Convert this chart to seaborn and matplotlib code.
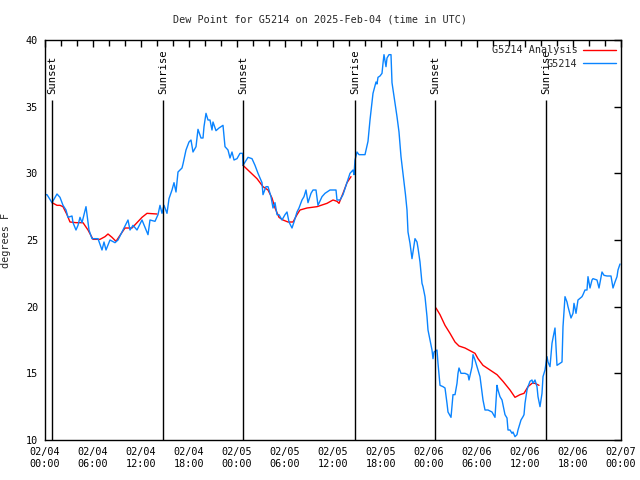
import numpy as np
import pandas as pd
import matplotlib
matplotlib.use("Agg")
import matplotlib.pyplot as plt
import matplotlib.dates as mdates
import seaborn as sns

# ---- data (hours since 2025-02-04 00:00 UTC, dew point in F) ----
obs_hours = [0, 0.25, 0.875, 1.5, 1.875, 2.25, 2.625, 2.875, 3.375, 3.5, 3.875, 4.125, 4.375, 4.625,
             5.125, 5.5, 5.875, 6.625, 7.125, 7.375, 7.625, 8.125, 8.75, 9.125, 9.75, 10.375, 10.625,
             11.0, 11.5, 12.125, 12.875, 13.125, 13.75, 14.125, 14.375, 14.625, 14.875, 15.25, 15.5,
             15.875, 16.125, 16.375, 16.625, 17.125, 17.25, 17.625, 18.0, 18.25, 18.5, 18.875, 19.125,
             19.5, 19.75, 19.875, 20.125, 20.375, 20.625, 20.875, 21.0, 21.375, 21.75, 22.25, 22.5,
             22.875, 23.125, 23.375, 23.625, 24.0, 24.375, 24.7, 24.75, 25.375, 25.875, 26.25, 26.625,
             27.125, 27.25, 27.625, 27.875, 28.25, 28.5, 28.75, 29.0, 29.25, 29.625, 30.0, 30.25, 30.5,
             30.875, 31.125, 31.5, 31.75, 32.125, 32.375, 32.625, 32.875, 33.25, 33.5, 33.875, 34.125,
             34.625, 35.0, 35.25, 35.625, 36.375, 36.5, 36.875, 37.25, 37.75, 38.125, 38.5, 38.625,
             38.75, 39.0, 39.25, 40.0, 40.375, 40.625, 40.875, 41.0, 41.375, 41.5, 41.625, 41.875,
             42.125, 42.25, 42.375, 42.625, 42.75, 43.0, 43.25, 43.375, 43.75, 44.0, 44.25, 44.5,
             44.75, 45.06, 45.25, 45.375, 45.625, 45.875, 46.0, 46.25, 46.5, 46.625, 46.875, 47.125,
             47.25, 47.5, 47.75, 47.875, 48.125, 48.375, 48.5, 48.625, 49.0, 49.125, 49.375, 49.75,
             50.0, 50.25, 50.375, 50.75, 51.0, 51.25, 51.5, 51.625, 51.75, 52.0, 52.5, 52.875, 53.0,
             53.375, 53.5, 53.75, 54.0, 54.375, 54.75, 55.0, 55.375, 55.875, 56.25, 56.5, 56.625,
             56.875, 57.125, 57.5, 57.75, 57.875, 58.125, 58.375, 58.5, 58.75, 59.0, 59.125, 59.5,
             59.75, 59.875, 60.0, 60.25, 60.375, 60.625, 60.875, 61.0, 61.25, 61.5, 61.625, 61.875,
             62.125, 62.25, 62.5, 62.75, 62.875, 63.125, 63.375, 63.5, 63.75, 64.0, 64.25, 64.625,
             64.75, 65.0, 65.25, 65.375, 65.75, 66.0, 66.125, 66.375, 66.625, 67.125, 67.25, 67.5,
             67.75, 67.875, 68.125, 68.375, 68.5, 69.0, 69.25, 69.625, 69.875, 70.25, 70.75, 71.0,
             71.25, 71.5, 71.625, 71.875]
obs_dew = [28.4, 28.4, 27.8, 28.45, 28.2, 27.6, 27.25, 26.7, 26.8, 26.3, 25.75, 26.1, 26.7, 26.3,
           27.5, 25.75, 25.1, 25.1, 24.25, 24.85, 24.25, 25.0, 24.8, 25.0, 25.75, 26.5, 25.75,
           26.1, 25.75, 26.5, 25.4, 26.5, 26.4, 26.9, 27.6, 27.0, 27.6, 27.0, 28.1,
           28.75, 29.3, 28.6, 30.1, 30.4, 30.7, 31.75, 32.35, 32.5, 31.6, 32.0, 33.3,
           32.65, 32.65, 33.5, 34.5, 34.0, 34.0, 33.25, 33.85, 33.2, 33.4, 33.6, 32.0,
           31.75, 31.15, 31.6, 31.0, 31.1, 31.5, 31.5, 30.6, 31.2, 31.1, 30.6, 30.0,
           29.3, 28.4, 29.0, 29.0, 28.25, 27.4, 27.8, 26.9, 26.9, 26.5, 26.9, 27.1, 26.35,
           25.9, 26.35, 27.1, 27.4, 28.0, 28.25, 28.75, 27.8, 28.5, 28.75, 28.75, 27.6,
           28.25, 28.5, 28.6, 28.75, 28.75, 28.0, 28.0, 28.4, 29.3, 30.0, 30.25, 29.9,
           31.0, 31.6, 31.4, 31.4, 32.4, 34.0, 35.35, 36.0, 36.85, 36.7, 37.2, 37.3,
           37.5, 38.25, 38.9, 38.0, 38.65, 38.9, 38.9, 36.8, 35.25, 34.25, 33.1, 31.25,
           30.0, 28.4, 27.25, 25.6, 24.75, 23.6, 24.1, 25.1, 24.85, 24.4, 23.35, 21.75,
           21.5, 20.75, 19.25, 18.25, 17.5, 16.75, 16.1, 16.6, 16.75, 15.75, 14.1, 14.0,
           13.9, 12.75, 12.1, 11.7, 13.4, 13.4, 14.25, 15.0, 15.4, 15.0, 15.0, 14.9, 14.5,
           15.5, 16.4, 16.0, 15.5, 14.75, 13.0, 12.25, 12.25, 12.1, 11.7, 14.1, 13.75,
           13.25, 13.0, 11.9, 11.65, 10.75, 10.75, 10.5, 10.6, 10.25, 10.4, 10.75, 11.5,
           11.75, 11.9, 12.75, 13.75, 14.0, 14.4, 14.5, 14.25, 14.5, 14.0, 13.25, 12.5,
           13.5, 14.75, 15.25, 16.25, 15.85, 15.5, 17.25, 17.65, 18.4, 15.6, 15.7, 15.85,
           18.5, 20.75, 20.35, 20.0, 19.15, 19.5, 20.25, 19.5, 20.5, 20.75, 20.9, 21.25,
           21.25, 22.25, 21.4, 22.0, 22.1, 22.0, 21.4, 22.6, 22.35, 22.3, 22.3, 21.4,
           21.85, 22.25, 22.75, 23.2]

ana_hours_1 = [0.875, 1.5, 1.875, 2.25, 2.75, 3.125, 3.875, 4.75, 5.375, 6.0, 6.875, 7.5, 7.875,
               8.375, 8.875, 9.375, 10.0, 10.875, 11.5, 12.125, 12.75, 14.0]
ana_dew_1 = [27.8, 27.6, 27.6, 27.5, 26.9, 26.35, 26.3, 26.3, 25.75, 25.05, 25.05, 25.25, 25.45,
             25.2, 24.9, 25.35, 25.9, 25.9, 26.3, 26.7, 27.0, 26.95]
ana_hours_2 = [24.75, 25.625, 26.5, 27.25, 27.875, 28.375, 28.75, 29.25, 29.75, 30.375, 31.0, 31.5,
               31.875, 32.75, 34.0, 35.25, 36.0, 36.5, 36.75, 37.25, 37.75, 38.25]
ana_dew_2 = [30.6, 30.1, 29.6, 29.0, 28.75, 28.15, 27.4, 26.7, 26.5, 26.35, 26.35, 26.9,
             27.25, 27.4, 27.5, 27.75, 28.0, 27.9, 27.75, 28.5, 29.3, 29.75]
ana_hours_3 = [48.875, 49.375, 50.0, 50.625, 51.25, 51.75, 52.5, 53.125, 53.75, 54.125, 54.75,
               55.625, 56.5, 57.25, 58.125, 58.75, 59.375, 59.875, 60.375, 60.875, 61.25, 61.75]
ana_dew_3 = [19.9, 19.4, 18.6, 18.0, 17.35, 17.05, 16.9, 16.7, 16.5, 16.1, 15.6,
             15.25, 14.9, 14.4, 13.75, 13.2, 13.4, 13.5, 14.0, 14.25, 14.25, 14.1]

sun_hours = [0.875, 14.75, 24.75, 38.75, 48.75, 62.6]
sun_labels = ["Sunset", "Sunrise", "Sunset", "Sunrise", "Sunset", "Sunrise"]

title = "Dew Point for G5214 on 2025-Feb-04 (time in UTC)"
ylabel = "degrees F"
obs_name = "G5214"
ana_name = "G5214 Analysis"

# ---- build frames ----
t0 = pd.Timestamp("2025-02-04 00:00")
def to_time(h):
    return t0 + pd.to_timedelta(np.asarray(h, dtype=float), unit="h")

obs_df = pd.DataFrame({"time": to_time(obs_hours), "dew": obs_dew})
ana_segments = [(ana_hours_1, ana_dew_1), (ana_hours_2, ana_dew_2), (ana_hours_3, ana_dew_3)]

# ---- style ----
sns.set_theme(style="white")
plt.rcParams["font.family"] = ["DejaVu Sans Mono", "DejaVu Sans"]
plt.rcParams["font.size"] = 7.3

fig = plt.figure(figsize=(6.4, 4.8), dpi=100)
ax = fig.add_axes([45 / 640, 40 / 480, 576 / 640, 400 / 480])

red = "#ff0000"
blue = "#0a84ff"

for i, (h, d) in enumerate(ana_segments):
    seg = pd.DataFrame({"time": to_time(h), "dew": d})
    sns.lineplot(data=seg, x="time", y="dew", ax=ax, color=red, linewidth=1.0,
                 label=ana_name if i == 0 else "_nolegend_", legend=False)

sns.lineplot(data=obs_df, x="time", y="dew", ax=ax, color=blue, linewidth=1.0,
             label=obs_name, legend=False)

# sunrise / sunset markers
sun_times = to_time(sun_hours)
ax.vlines(sun_times, 10, 35.5, color="black", linewidth=1.0)
for t, lab in zip(sun_times, sun_labels):
    ax.text(t, 35.95, lab, rotation=90, ha="center", va="bottom", fontsize=7.6, color="black")

ax.set_xlim(t0, t0 + pd.Timedelta(hours=72))
ax.set_ylim(10, 40)
ax.set_yticks([10, 15, 20, 25, 30, 35, 40])
ax.xaxis.set_major_locator(mdates.HourLocator(byhour=[0, 6, 12, 18]))
ax.xaxis.set_minor_locator(mdates.HourLocator(interval=2))
ax.xaxis.set_major_formatter(mdates.DateFormatter("%m/%d\n%H:%M"))

for s in ax.spines.values():
    s.set_visible(True)
    s.set_color("black")
    s.set_linewidth(1.0)

ax.tick_params(axis="both", which="both", direction="in", top=True, right=True,
               colors="black", labelsize=7.3)
ax.tick_params(axis="both", which="major", length=5, width=1)
ax.tick_params(axis="x", which="minor", length=4, width=1)
ax.tick_params(axis="x", which="major", pad=5)
ax.tick_params(axis="y", which="major", pad=5)

ax.set_xlabel("")
ax.set_ylabel(ylabel, fontsize=7.3)
ax.yaxis.set_label_coords(-0.059, 0.5)
fig.text(0.5, 1 - 19 / 480, title, ha="center", va="center", fontsize=7.3)

leg = ax.legend(loc="upper right", frameon=False, markerfirst=False, handlelength=3.2,
                handletextpad=0.6, labelspacing=0.35, borderaxespad=0.1, fontsize=7.3)

fig.savefig("out.png", dpi=100)
